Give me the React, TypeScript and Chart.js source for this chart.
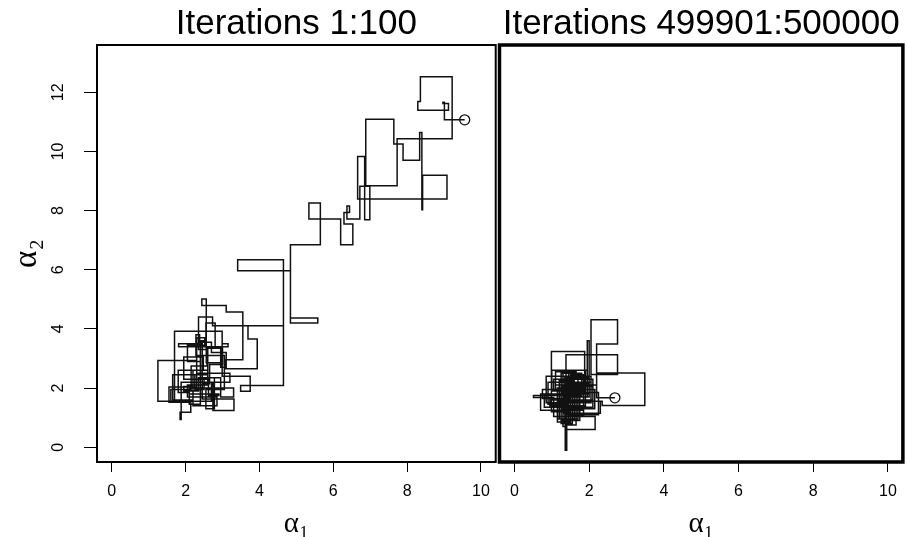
import React, { useEffect, useRef } from "react";
import { Chart, registerables } from "chart.js";

Chart.register(...registerables);

// ---- data ----
const titleLeft = "Iterations 1:100";
const titleRight = "Iterations 499901:500000";
const xTitle = "α₁";
const yTitle = "α₂";
const xTicks = [0, 2, 4, 6, 8, 10];
const yTicks = [0, 2, 4, 6, 8, 10, 12];

// Gibbs sampler states, iterations 1:100 (alpha1, alpha2)
const leftA1 = [
  9.56, 9.01, 8.97, 9.12, 8.29, 8.36, 9.22, 7.73, 6.88, 7.64,
  7.89, 8.34, 8.4, 8.42, 9.08, 6.66, 6.85, 6.99, 6.72, 6.37,
  6.44, 6.29, 6.53, 6.2, 5.34, 5.65, 4.84, 5.58, 4.84, 3.41,
  4.65, 3.69, 3.94, 3.06, 3.55, 3.1, 2.44, 2.56, 2.99, 1.7,
  1.25, 2.3, 1.55, 2.14, 1.85, 1.88, 2.74, 3.31, 2.45, 1.81,
  3.15, 2.99, 3.75, 3.49, 4.65, 2.73, 2.35, 2.6, 2.05, 2.85,
  2.2, 2.48, 1.95, 2.62, 2.9, 2.1, 2.4, 2.05, 2.52, 2.3,
  3.2, 2.7, 1.6, 2.15, 2.58, 2.95, 3.1, 2.7, 2.38, 2.28,
  3.05, 2.55, 2.78, 2.35, 1.95, 2.2, 1.65, 2.45, 2.65, 3.0,
  2.8, 2.55, 2.4, 2.95, 3.3, 2.1, 1.8, 2.6, 2.25, 2.5,
];
const leftA2 = [
  11.07, 11.66, 11.62, 11.39, 11.69, 12.53, 10.43, 8.84, 11.09, 10.25,
  9.7, 10.64, 8.03, 9.2, 8.39, 9.83, 7.69, 8.82, 7.72, 8.16,
  7.94, 7.55, 6.85, 7.72, 8.26, 6.85, 4.37, 4.2, 5.97, 6.34,
  4.11, 3.66, 2.65, 2.96, 4.57, 4.79, 5.01, 2.86, 3.92, 1.55,
  2.93, 2.04, 1.52, 1.18, 0.94, 2.2, 1.24, 1.63, 3.5, 3.4,
  3.5, 2.4, 1.89, 2.09, 4.11, 4.4, 3.3, 2.1, 1.7, 1.4,
  2.6, 3.05, 2.3, 1.75, 1.8, 1.45, 2.9, 3.45, 3.7, 2.5,
  2.2, 1.55, 1.95, 2.75, 3.35, 2.7, 3.2, 3.55, 3.8, 3.1,
  1.95, 1.3, 2.35, 1.9, 2.05, 1.6, 2.45, 2.15, 2.8, 3.35,
  4.2, 3.6, 2.35, 1.7, 2.0, 1.85, 2.6, 2.45, 1.95, 2.3,
];

// Gibbs sampler states, iterations 499901:500000
const rightA1 = [
  2.69, 2.2, 3.49, 2.35, 1.38, 2.76, 2.05, 2.76, 2.2, 1.95,
  2.0, 1.36, 1.5, 0.99, 1.88, 1.2, 0.51, 1.05, 2.16, 1.36,
  1.6, 1.1, 1.75, 1.25, 1.55, 2.05, 1.4, 0.85, 1.65, 1.3,
  1.9, 1.45, 1.15, 1.7, 2.1, 1.35, 0.7, 1.5, 1.85, 1.2,
  1.6, 2.25, 1.45, 1.0, 1.8, 1.3, 1.4, 2.0, 1.55, 0.95,
  1.75, 1.25, 1.95, 1.5, 0.75, 1.65, 2.15, 1.1, 1.45, 1.85,
  1.35, 1.2, 1.7, 1.4, 2.05, 1.0, 1.6, 1.3, 1.9, 1.5,
  1.15, 1.75, 2.3, 1.55, 0.9, 1.45, 1.8, 1.25, 1.65, 1.36,
  1.4, 2.1, 1.55, 1.05, 1.7, 1.3, 1.95, 1.45, 0.8, 1.6,
  1.85, 1.2, 1.5, 2.0, 1.35, 1.6, 1.25, 1.75, 1.4, 1.55,
];
const rightA2 = [
  1.67, 2.51, 1.41, 1.55, 3.13, 2.46, 4.31, 3.49, 2.1, 3.6,
  1.7, 2.06, 1.2, 3.24, 2.0, 1.75, 1.68, 1.04, 0.6, 1.1,
  2.3, 2.1, 1.3, 0.8, 1.85, 2.2, 1.5, 2.4, 2.55, 1.95,
  1.4, 0.95, 1.55, 2.05, 1.35, 1.8, 1.25, 2.45, 1.6, 2.25,
  1.1, 1.85, 2.6, 1.9, 1.75, 0.7, 2.15, 2.4, 1.4, 1.6,
  0.9, 1.85, 2.1, 1.65, 1.95, 1.3, 1.95, 2.55, 1.05, 2.35,
  1.45, 0.95, 1.8, 2.4, 1.5, 1.35, 2.0, 2.6, 1.9, 0.85,
  2.0, 1.55, 1.15, 2.2, 1.45, 1.7, 2.5, 1.25, 0.75, -0.1,
  1.6, 2.3, 1.95, 2.3, 1.15, 1.7, 2.6, 1.35, 1.75, 2.1,
  1.25, 1.5, 2.35, 1.8, 0.9, 1.55, 2.05, 1.95, 1.75, 1.6,
];

const X_MIN = -0.4;
const X_MAX = 10.4;
const Y_MIN = -0.5;
const Y_MAX = 13.6;

const SANS = "'Liberation Sans', Arial, Helvetica, sans-serif";
const GREEK = "'Liberation Serif', 'DejaVu Serif', serif";

function boxPlugin(width: number) {
  return {
    id: "rbox",
    afterDraw(chart: any) {
      const { left, top, right, bottom } = chart.chartArea;
      const ctx = chart.ctx;
      ctx.save();
      ctx.lineWidth = width;
      ctx.strokeStyle = "#000";
      ctx.strokeRect(left, top, right - left, bottom - top);
      ctx.restore();
    },
  };
}

function makeConfig(a1: number[], a2: number[], title: string, showY: boolean, boxW: number, padL: number, padR: number) {
  const pts = a1.map((x, i) => ({ x, y: a2[i] }));
  return {
    type: "line",
    data: {
      datasets: [
        {
          data: pts,
          borderColor: "#111",
          borderWidth: 1.5,
          stepped: "before",
          fill: false,
          tension: 0,
          pointRadius: (ctx: any) => (ctx.dataIndex === 0 ? 5 : 0),
          pointHoverRadius: 0,
          pointBorderColor: "#111",
          pointBackgroundColor: "rgba(0,0,0,0)",
          pointBorderWidth: 1.3,
        },
      ],
    },
    options: {
      responsive: false,
      animation: false,
      events: [],
      layout: { autoPadding: false, padding: { left: padL, right: padR, top: 0, bottom: 0 } },
      plugins: {
        legend: { display: false },
        tooltip: { enabled: false },
        title: {
          display: true,
          text: title,
          fullSize: false,
          color: "#000",
          font: { family: SANS, size: 35, weight: "normal", lineHeight: 1.2 },
          padding: { top: 3, bottom: 0 },
        },
      },
      scales: {
        x: {
          type: "linear",
          min: X_MIN,
          max: X_MAX,
          afterBuildTicks: (s: any) => {
            s.ticks = xTicks.map((v) => ({ value: v }));
          },
          afterFit: (s: any) => {
            s.height = 75;
          },
          border: { display: false },
          grid: {
            display: true,
            drawOnChartArea: false,
            drawTicks: true,
            tickLength: 10,
            tickColor: "#000",
            tickWidth: 1,
            color: "#000",
          },
          ticks: {
            color: "#000",
            font: { family: SANS, size: 16 },
            padding: 10,
            autoSkip: false,
            maxRotation: 0,
            minRotation: 0,
          },
          title: {
            display: true,
            text: xTitle,
            color: "#000",
            font: { family: GREEK, size: 29, lineHeight: 0.9 },
            padding: { top: 0, bottom: 0 },
          },
        },
        y: {
          type: "linear",
          display: showY,
          min: Y_MIN,
          max: Y_MAX,
          afterBuildTicks: (s: any) => {
            s.ticks = yTicks.map((v) => ({ value: v }));
          },
          afterFit: (s: any) => {
            if (showY) s.width = 97;
          },
          border: { display: false },
          grid: {
            display: true,
            drawOnChartArea: false,
            drawTicks: true,
            tickLength: 13,
            tickColor: "#000",
            tickWidth: 1,
            color: "#000",
          },
          ticks: {
            color: "#000",
            font: { family: SANS, size: 16 },
            padding: 17,
            autoSkip: false,
            minRotation: 90,
            maxRotation: 90,
            crossAlign: "center",
          },
          title: {
            display: true,
            text: yTitle,
            color: "#000",
            font: { family: GREEK, size: 33 },
            padding: { top: 8, bottom: 0 },
          },
        },
      },
    },
    plugins: [boxPlugin(boxW)],
  } as any;
}

export default function App() {
  const leftRef = useRef<HTMLCanvasElement | null>(null);
  const rightRef = useRef<HTMLCanvasElement | null>(null);

  useEffect(() => {
    const c1 = new Chart(leftRef.current as HTMLCanvasElement, makeConfig(leftA1, leftA2, titleLeft, true, 2, 0, 0));
    const c2 = new Chart(rightRef.current as HTMLCanvasElement, makeConfig(rightA1, rightA2, titleRight, false, 3.5, 4.5, 4));
    return () => {
      c1.destroy();
      c2.destroy();
    };
  }, []);

  return (
    <div style={{ position: "absolute", left: 0, top: 0, width: 907, height: 537, background: "#fff", overflow: "hidden" }}>
      <canvas ref={leftRef} width={500} height={537} style={{ position: "absolute", left: 0, top: 0 }} />
      <canvas ref={rightRef} width={412} height={537} style={{ position: "absolute", left: 495, top: 0 }} />
    </div>
  );
}
